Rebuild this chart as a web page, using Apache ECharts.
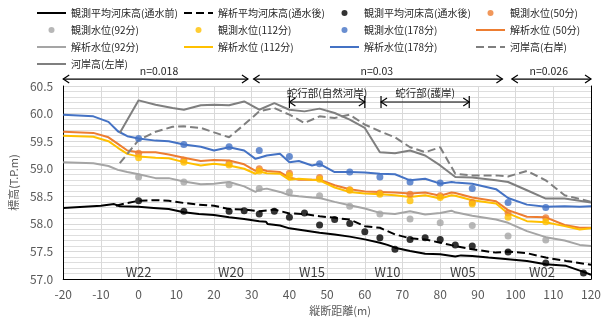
<!DOCTYPE html>
<html><head><meta charset="utf-8">
<script src="https://cdn.jsdelivr.net/npm/echarts@6/dist/echarts.min.js"></script>
<style>html,body{margin:0;padding:0;background:#fff}#c{width:604px;height:321px}</style>
</head><body><div id="c"></div>
<script>
const FONT = '"Noto Sans CJK JP", "Noto Sans", sans-serif';

// ---- observed positions (longitudinal distance, m) ----
const xObs = [0, 12, 24, 32, 40, 48, 56, 64, 72, 80, 88.5, 98, 108];
const obs50  = [59.28, 59.16, 59.10, 59.00, 58.92, 58.84, 58.62, 58.56, 58.54, 58.51, 58.39, 58.20, 58.11];
const obs92  = [58.85, 58.76, 58.71, 58.64, 58.58, 58.51, 58.32, 58.18, 58.09, 58.02, 57.97, 57.78, 57.71];
const obs112 = [59.20, 59.12, 59.07, 58.96, 58.88, 58.81, 58.61, 58.54, 58.42, 58.48, 58.36, 58.12, 58.04];
const obs178 = [59.55, 59.44, 59.40, 59.33, 59.22, 59.09, 58.94, 58.85, 58.76, 58.74, 58.64, 58.39, 58.30];

// ---- observed mean bed after flow ----
const xBedObs = [0, 12, 24, 28, 32, 36, 40, 44, 48, 52, 56, 60, 64, 68, 72, 76, 80, 84, 88.5, 98, 108, 118];
const bedObsAfter = [58.42, 58.23, 58.23, 58.24, 58.18, 58.23, 58.12, 58.20, 57.98, 58.08, 58.01, 57.86, 57.75, 57.54, 57.72, 57.75, 57.72, 57.62, 57.60, 57.49, 57.29, 57.11];

// ---- observed mean bed before flow ----
const xBedBefore = [-20, -10, -6.5, -5, 0, 4, 8, 12, 16, 20, 24, 28, 32, 33.8, 34.2, 37.5, 40, 44, 48, 52, 56, 60, 64, 66, 68, 72, 76, 80, 84, 85.5, 88.5, 92.8, 98, 103, 108, 113.4, 118, 120];
const bedBefore = [58.29, 58.33, 58.36, 58.32, 58.31, 58.29, 58.27, 58.21, 58.18, 58.16, 58.12, 58.09, 58.05, 58.04, 58.00, 57.97, 57.92, 57.88, 57.84, 57.81, 57.77, 57.72, 57.66, 57.62, 57.57, 57.51, 57.46, 57.45, 57.41, 57.43, 57.42, 57.39, 57.36, 57.33, 57.27, 57.24, 57.13, 57.08];

// ---- computed mean bed after flow ----
const xBedCalc = [-6, -3, 0, 4.5, 8, 12, 16, 20, 24, 28, 32, 36, 40, 44, 48, 52, 56, 60, 64, 68, 72, 76, 80, 84, 88.5, 94.8, 98, 103, 108, 113.4, 120];
const bedCalcAfter = [58.33, 58.38, 58.42, 58.43, 58.42, 58.38, 58.35, 58.33, 58.27, 58.26, 58.23, 58.26, 58.19, 58.18, 58.14, 58.11, 58.08, 57.96, 57.93, 57.81, 57.74, 57.72, 57.66, 57.60, 57.54, 57.48, 57.50, 57.47, 57.39, 57.33, 57.26];

// ---- computed water levels ----
const xCalc = [-20, -12, -8, -5.5, -3, 0, 4.5, 8, 12, 16.5, 20, 24, 28, 31, 32, 34, 37.5, 40, 42.5, 46, 48, 52, 56, 60, 64, 68, 72, 76, 80, 83, 84, 88.5, 94.8, 98, 103, 108, 113, 117, 120];
const calc178 = [59.98, 59.95, 59.85, 59.68, 59.59, 59.55, 59.51, 59.50, 59.44, 59.40, 59.33, 59.39, 59.33, 59.18, 59.20, 59.24, 59.27, 59.12, 59.14, 59.06, 59.09, 58.94, 58.94, 58.93, 58.91, 58.90, 58.79, 58.82, 58.73, 58.76, 58.75, 58.73, 58.63, 58.47, 58.35, 58.31, 58.32, 58.31, 58.32];
const calc50  = [59.67, 59.65, 59.57, 59.45, 59.33, 59.30, 59.30, 59.26, 59.20, 59.14, 59.16, 59.15, 59.08, 58.96, 59.00, 58.96, 58.94, 58.84, 58.80, 58.80, 58.80, 58.70, 58.63, 58.59, 58.58, 58.57, 58.55, 58.57, 58.51, 58.57, 58.56, 58.48, 58.41, 58.25, 58.13, 58.12, 57.98, 57.93, 57.93];
const calc112 = [59.60, 59.58, 59.50, 59.38, 59.27, 59.22, 59.20, 59.19, 59.12, 59.06, 59.09, 59.06, 59.00, 58.91, 58.95, 58.92, 58.91, 58.80, 58.82, 58.80, 58.79, 58.66, 58.58, 58.55, 58.54, 58.52, 58.49, 58.52, 58.46, 58.52, 58.51, 58.43, 58.37, 58.19, 58.05, 58.03, 57.96, 57.90, 57.92];
const calc92  = [59.12, 59.10, 59.05, 58.98, 58.94, 58.90, 58.83, 58.83, 58.77, 58.72, 58.73, 58.76, 58.68, 58.58, 58.62, 58.64, 58.58, 58.52, 58.50, 58.48, 58.47, 58.40, 58.34, 58.28, 58.20, 58.18, 58.23, 58.17, 58.20, 58.24, 58.21, 58.15, 58.08, 58.02, 57.87, 57.76, 57.70, 57.62, 57.60];

// ---- bank heights ----
const xBank = [-5, 0, 4.5, 9, 12, 16.5, 20, 24, 28, 32, 36, 40, 44, 48, 52, 56, 60, 64, 68, 72, 76, 80, 84, 88.5, 94.8, 98, 103, 108, 113, 120];
const bankLeft  = [59.65, 60.24, 60.16, 60.10, 60.07, 60.15, 60.16, 60.15, 60.22, 60.07, 60.19, 60.07, 60.04, 60.09, 60.01, 59.89, 59.74, 59.30, 59.28, 59.33, 59.24, 59.06, 58.85, 58.84, 58.79, 58.76, 58.61, 58.46, 58.46, 58.39];
const bankRight = [59.10, 59.52, 59.67, 59.76, 59.77, 59.74, 59.66, 59.57, 59.80, 60.04, 60.10, 59.98, 59.83, 59.95, 59.92, 59.98, 59.80, 59.68, 59.57, 59.39, 59.30, 59.39, 58.91, 58.88, 58.88, 58.86, 58.96, 58.79, 58.52, 58.40];

// ---- annotations ----
const nLabels = ['n=0.018', 'n=0.03', 'n=0.026'];
const nLabelX = [5.4, 63.2, 108.8];
const nRanges = [[-20, 29], [30.5, 96.5], [99, 120]];
const meanderLabels = ['蛇行部(自然河岸)', '蛇行部(護岸)'];
const meanderRanges = [[40, 60], [64.3, 87.7]];
const wLabels = ['W22', 'W20', 'W15', 'W10', 'W05', 'W02'];
const wPos = [0, 24.5, 46, 66, 86, 107];

const pairs = (xs, ys) => xs.map((x, i) => [x, ys[i]]);

function lineS(name, xs, ys, color, type, width) {
  return { name, type: 'line', data: pairs(xs, ys), symbol: 'none', showSymbol: false,
    lineStyle: { color, width: width || 2, type: type || 'solid' }, itemStyle: { color },
    z: 2, silent: true, animation: false };
}
function dotS(name, xs, ys, color) {
  return { name, type: 'scatter', data: pairs(xs, ys), symbol: 'circle', symbolSize: 7,
    itemStyle: { color }, z: 4, silent: true, animation: false };
}

const C = { black: '#000000', orange: '#ED7D31', gray: '#A5A5A5', yellow: '#FFC000', blue: '#4472C4', bank: '#7F7F7F' };

const series = [
  lineS('観測平均河床高(通水前)', xBedBefore, bedBefore, C.black, 'solid', 2),
  lineS('解析平均河床高(通水後)', xBedCalc, bedCalcAfter, C.black, 'dashed', 2),
  dotS('観測平均河床高(通水後)', xBedObs, bedObsAfter, C.black),
  dotS('観測水位(50分)', xObs, obs50, C.orange),
  dotS('観測水位(92分)', xObs, obs92, C.gray),
  dotS('観測水位(112分)', xObs, obs112, C.yellow),
  dotS('観測水位(178分)', xObs, obs178, C.blue),
  lineS('解析水位 (50分)', xCalc, calc50, C.orange, 'solid', 2),
  lineS('解析水位(92分)', xCalc, calc92, C.gray, 'solid', 2),
  lineS('解析水位 (112分)', xCalc, calc112, C.yellow, 'solid', 2),
  lineS('解析水位(178分)', xCalc, calc178, C.blue, 'solid', 2),
  lineS('河岸高(右岸)', xBank, bankRight, C.bank, 'dashed', 2),
  lineS('河岸高(左岸)', xBank, bankLeft, C.bank, 'solid', 2)
];
const lineNames = series.filter(s => s.type === 'line').map(s => s.name);

function legendCol(left, names) {
  return { orient: 'vertical', left, top: 8, itemWidth: 29, itemHeight: 6, itemGap: 7, padding: 0,
    selectedMode: false,
    data: names.map(n => lineNames.includes(n) ? { name: n, itemStyle: { opacity: 0 } } : { name: n }),
    textStyle: { fontSize: 10, color: '#262626', fontFamily: FONT } };
}

const chart = echarts.init(document.getElementById('c'), null, { renderer: 'canvas' });
chart.setOption({
  animation: false,
  backgroundColor: '#fff',
  textStyle: { fontFamily: FONT },
  grid: { left: 57, right: 3, top: 86, bottom: 39, containLabel: false },
  legend: [
    legendCol(36, ['観測平均河床高(通水前)', '観測水位(92分)', '解析水位(92分)', '河岸高(左岸)']),
    legendCol(183, ['解析平均河床高(通水後)', '観測水位(112分)', '解析水位 (112分)']),
    legendCol(329, ['観測平均河床高(通水後)', '観測水位(178分)', '解析水位(178分)']),
    legendCol(475, ['観測水位(50分)', '解析水位 (50分)', '河岸高(右岸)'])
  ],
  xAxis: {
    type: 'value', min: -20, max: 120, interval: 10,
    axisLine: { show: true, onZero: false, lineStyle: { color: '#000', width: 1 } },
    axisTick: { show: false },
    axisLabel: { color: '#595959', fontSize: 12, margin: 9, fontFamily: FONT },
    splitLine: { show: true, lineStyle: { color: '#d9d9d9', width: 1 } },
    name: '縦断距離(m)', nameLocation: 'middle', nameGap: 22,
    nameTextStyle: { fontSize: 11, color: '#595959', fontFamily: FONT, padding: [0, 0, 0, 26] }
  },
  yAxis: [{
    type: 'value', min: 57, max: 60.5, interval: 0.5,
    axisLine: { show: true, onZero: false, lineStyle: { color: '#000', width: 1 } },
    axisTick: { show: false },
    axisLabel: { color: '#595959', fontSize: 12, margin: 10, fontFamily: FONT, formatter: v => v.toFixed(1) },
    splitLine: { show: true, lineStyle: { color: '#d9d9d9', width: 1 } },
    minorTick: { show: false, splitNumber: 5 },
    minorSplitLine: { show: true, lineStyle: { color: '#dedede', width: 1 } },
    name: '標高(T.P.m)', nameLocation: 'middle', nameGap: 37, nameRotate: 90,
    nameTextStyle: { fontSize: 11, color: '#595959', fontFamily: FONT }
  }, {
    type: 'value', min: 57, max: 60.5, interval: 0.5, position: 'right',
    axisLine: { show: true, onZero: false, lineStyle: { color: '#000', width: 1 } },
    axisTick: { show: false }, axisLabel: { show: false }, splitLine: { show: false }
  }],
  series
});

// annotations positioned through the chart's own scales
const P = (x, y) => chart.convertToPixel({ xAxisIndex: 0, yAxisIndex: 0 }, [x, y]);
const els = [];
const stroke = { stroke: '#000', lineWidth: 1.2, fill: null };
function arrow(a, b, yv, bars) {
  const p1 = P(a, yv), p2 = P(b, yv);
  const y = p1[1];
  els.push({ type: 'line', shape: { x1: p1[0], y1: y, x2: p2[0], y2: y }, style: stroke, silent: true });
  els.push({ type: 'polyline', shape: { points: [[p1[0] + 6, y - 4], [p1[0], y], [p1[0] + 6, y + 4]] }, style: stroke, silent: true });
  els.push({ type: 'polyline', shape: { points: [[p2[0] - 6, y - 4], [p2[0], y], [p2[0] - 6, y + 4]] }, style: stroke, silent: true });
  if (bars) {
    els.push({ type: 'line', shape: { x1: p1[0], y1: y - 6, x2: p1[0], y2: y + 6 }, style: stroke, silent: true });
    els.push({ type: 'line', shape: { x1: p2[0], y1: y - 6, x2: p2[0], y2: y + 6 }, style: stroke, silent: true });
  }
}
function label(txt, x, yv, size, color) {
  const p = P(x, yv);
  els.push({ type: 'text', x: p[0], y: p[1], silent: true,
    style: { text: txt, align: 'center', verticalAlign: 'middle', fontSize: size, fontFamily: FONT, fill: color } });
}
nRanges.forEach((r, i) => { arrow(r[0], r[1], 60.625, false); label(nLabels[i], nLabelX[i], 60.77, 10.5, '#262626'); });
meanderRanges.forEach((r, i) => { arrow(r[0], r[1], 60.21, true); label(meanderLabels[i], (r[0] + r[1]) / 2, 60.375, 10.5, '#262626'); });
wLabels.forEach((w, i) => label(w, wPos[i], 57.13, 13, '#404040'));
chart.setOption({ graphic: els });
</script></body></html>
